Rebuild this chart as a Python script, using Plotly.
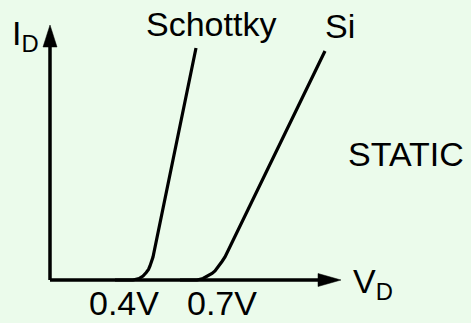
import plotly.graph_objects as go

# Schematic diode I-V characteristics (V in volts, I in arbitrary mA units)
schottky_v = [0.26, 0.332, 0.356, 0.372, 0.385, 0.394, 0.400, 0.406, 0.412, 0.584]
schottky_i = [0.0, 0.0, 0.15, 0.4, 0.75, 1.05, 1.4, 1.85, 2.3, 23.2]

si_v = [0.52, 0.588, 0.612, 0.632, 0.648, 0.660, 0.670, 0.678, 0.688, 0.700, 1.100]
si_i = [0.0, 0.0, 0.15, 0.4, 0.65, 0.9, 1.2, 1.5, 1.85, 2.3, 22.9]

curve_labels = ["Schottky", "Si"]
tick_labels = ["0.4V", "0.7V"]
tick_values = [0.4, 0.7]
axis_labels = ["I<sub>D</sub>", "V<sub>D</sub>"]
mode_label = "STATIC"

BG = "rgb(235,251,235)"
FONT = dict(family="Liberation Sans, Arial, sans-serif", size=34, color="black")

fig = go.Figure()
fig.add_trace(go.Scatter(x=schottky_v, y=schottky_i, mode="lines",
                         line=dict(color="black", width=3.2), hoverinfo="skip"))
fig.add_trace(go.Scatter(x=si_v, y=si_i, mode="lines",
                         line=dict(color="black", width=3.2), hoverinfo="skip"))

# axes with arrows
shapes = [
    dict(type="line", x0=0, y0=0, x1=0, y1=23.4, line=dict(color="black", width=3.5)),
    dict(type="line", x0=0, y0=0, x1=1.075, y1=0, line=dict(color="black", width=3.5)),
    dict(type="path", path="M -0.028 23.3 L 0.028 23.3 L 0 25.5 Z",
         fillcolor="black", line=dict(color="black", width=0.5)),
    dict(type="path", path="M 1.072 0.65 L 1.072 -0.65 L 1.164 0 Z",
         fillcolor="black", line=dict(color="black", width=0.5)),
]

annotations = [
    dict(x=0.644, y=25.6, text=curve_labels[0]),
    dict(x=1.16, y=25.4, text=curve_labels[1]),
    dict(x=1.424, y=12.6, text=mode_label),
    dict(x=tick_values[0] - 0.104, y=-4.3, text=tick_labels[0], yanchor="bottom"),
    dict(x=tick_values[1] - 0.012, y=-4.3, text=tick_labels[1], yanchor="bottom"),
    dict(x=-0.158, y=24.5, text=axis_labels[0], xanchor="left"),
    dict(x=1.206, y=-0.3, text=axis_labels[1], xanchor="left"),
]
for a in annotations:
    a.setdefault("xanchor", "center")
    a.setdefault("yanchor", "middle")
    a.update(showarrow=False, font=FONT, xref="x", yref="y", borderpad=0)

fig.update_layout(
    width=471, height=323,
    margin=dict(l=0, r=0, t=0, b=0),
    paper_bgcolor=BG, plot_bgcolor=BG,
    showlegend=False,
    shapes=shapes,
    annotations=annotations,
    xaxis=dict(range=[-0.2, 1.684], visible=False, fixedrange=True),
    yaxis=dict(range=[-4.3, 28], visible=False, fixedrange=True),
)
fig.write_html("out.html", config={"displayModeBar": False})

# remove the default page margin so the figure fills the window
with open("out.html", encoding="utf-8") as f:
    html = f.read()
html = html.replace("<head>", "<head><style>html,body{margin:0;padding:0;overflow:hidden;background:" + BG + ";}</style>", 1)
with open("out.html", "w", encoding="utf-8") as f:
    f.write(html)
